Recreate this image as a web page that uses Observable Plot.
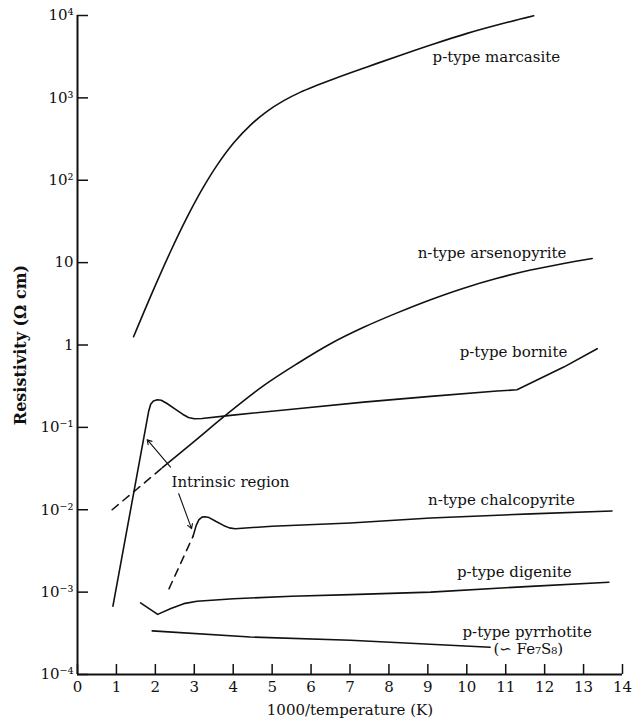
<!DOCTYPE html>
<html>
<head>
<meta charset="utf-8">
<script src="https://cdn.jsdelivr.net/npm/d3@7"></script>
<script src="https://cdn.jsdelivr.net/npm/@observablehq/plot@0.6"></script>
<style>
  html, body { margin: 0; padding: 0; background: #fff; }
  #chart svg { display: block; }
</style>
</head>
<body>
<div id="chart"></div>
<script>
// Resistivity of sulfide minerals vs. reciprocal temperature.
// Each series: [1000/T (1/K), log10 resistivity (Ω cm)]
const marcasite = [[1.44,0.10],[1.9,0.615],[2.39,1.135],[2.8,1.537],[3.2,1.889],[3.6,2.193],[4.02,2.458],[4.45,2.673],[4.87,2.837],[5.3,2.966],[5.73,3.07],[6.58,3.23],[7.44,3.376],[8.30,3.518],[9.15,3.654],[10.01,3.783],[10.9,3.899],[11.72,3.997]];
const arsenopyriteDashed = [[0.89,-2.0],[1.53,-1.748],[2.18,-1.49]];
const arsenopyrite = [[2.18,-1.49],[3.0,-1.169],[3.8,-0.854],[4.79,-0.49],[5.64,-0.227],[6.50,0.016],[7.35,0.215],[8.21,0.39],[9.07,0.55],[9.92,0.69],[10.78,0.81],[11.64,0.91],[12.49,0.99],[13.22,1.05]];
const bornite = [[0.91,-3.17],[1.83,-0.80],[1.88,-0.72],[1.95,-0.68],[2.05,-0.665],[2.15,-0.67],[2.3,-0.71],[2.5,-0.775],[2.7,-0.84],[2.85,-0.88],[3.0,-0.895],[3.2,-0.893],[3.93,-0.854],[5.64,-0.773],[7.35,-0.693],[9.07,-0.624],[10.78,-0.559],[11.29,-0.543],[12.49,-0.268],[13.35,-0.045]];
const chalcopyriteDashed = [[2.35,-2.96],[2.97,-2.32]];
const chalcopyrite = [[2.97,-2.32],[3.05,-2.19],[3.12,-2.12],[3.2,-2.09],[3.27,-2.085],[3.38,-2.095],[3.55,-2.14],[3.75,-2.19],[3.9,-2.22],[4.05,-2.23],[5.0,-2.20],[7.01,-2.16],[9.07,-2.10],[11.64,-2.05],[13.73,-2.016]];
const digenite = [[1.62,-3.13],[2.06,-3.27],[2.4,-3.20],[2.73,-3.14],[3.07,-3.11],[4.01,-3.08],[5.5,-3.05],[7.01,-3.03],[9.07,-3.0],[11.64,-2.93],[13.65,-2.88]];
const pyrrhotite = [[1.92,-3.47],[4.44,-3.545],[7.01,-3.585],[10.6,-3.67]];

// Curve labels: [text, x, log10 y]
const curveLabels = [
  ["p-type marcasite", 10.76, 3.50],
  ["n-type arsenopyrite", 10.65, 1.11],
  ["p-type bornite", 11.2, -0.09],
  ["n-type chalcopyrite", 10.89, -1.886],
  ["p-type digenite", 11.22, -2.76],
  ["p-type pyrrhotite", 11.55, -3.488],
  ["(∽ Fe₇S₈)", 11.58, -3.694],
  ["Intrinsic region", 3.93, -1.667]
];

// Pointers from "Intrinsic region" to the intrinsic parts: [x1, logy1, x2, logy2]
const pointers = [[2.39,-1.482,1.79,-1.149],[2.60,-1.805,2.93,-2.229]];

// Axes
const xTicks = [0,1,2,3,4,5,6,7,8,9,10,11,12,13,14];
const yTicks = [1e-4,1e-3,1e-2,1e-1,1,10,1e2,1e3,1e4];
const yTickLabels = ["10⁻⁴","10⁻³","10⁻²","10⁻¹","1","10","10²","10³","10⁴"];
const xTitle = "1000/temperature (K)";
const yTitle = "Resistivity (Ω cm)";

const P = ([x, ly]) => ({x, y: 10 ** ly});
const ink = "#111";

// smooth curves vs. ones with sharp corners
const smooth = [marcasite, arsenopyrite];
const cornered = [bornite, chalcopyrite, digenite, pyrrhotite];
const dashed = [arsenopyriteDashed, chalcopyriteDashed];

const lineMarks = [
  ...smooth.map(s => Plot.line(s.map(P), {x: "x", y: "y", stroke: ink, strokeWidth: 1.6, curve: "catmull-rom"})),
  ...cornered.map(s => Plot.line(s.map(P), {x: "x", y: "y", stroke: ink, strokeWidth: 1.6, strokeLinejoin: "round"})),
  ...dashed.map(s => Plot.line(s.map(P), {x: "x", y: "y", stroke: ink, strokeWidth: 1.5, strokeDasharray: "8,6"}))
];

const chart = Plot.plot({
  width: 634,
  height: 728,
  marginLeft: 77,
  marginRight: 12,
  marginTop: 15,
  marginBottom: 54,
  style: {fontFamily: "'DejaVu Serif', serif", fontSize: "14px", color: ink, background: "#fff"},
  x: {domain: [0, 14]},
  y: {type: "log", domain: [1e-4, 1e4]},
  marks: [
    Plot.axisX({ticks: xTicks, tickSize: -10, tickPadding: 17, tickFormat: d => String(d), label: null, fontSize: 15, strokeWidth: 1.5}),
    Plot.axisY({ticks: yTicks, tickSize: -11, tickPadding: 15, tickFormat: d => yTickLabels[yTicks.indexOf(d)], label: null, fontSize: 15, strokeWidth: 1.5}),
    Plot.ruleX([0], {stroke: ink, strokeWidth: 2}),
    Plot.ruleY([1e-4], {stroke: ink, strokeWidth: 2}),
    ...lineMarks,
    Plot.arrow(pointers, {x1: d => d[0], y1: d => 10 ** d[1], x2: d => d[2], y2: d => 10 ** d[3], stroke: ink, strokeWidth: 1.1, headLength: 7}),
    Plot.text(curveLabels, {x: d => d[1], y: d => 10 ** d[2], text: d => d[0], fontSize: 15, fill: ink}),
    Plot.text([xTitle], {frameAnchor: "bottom", dy: 40, text: d => d, fontSize: 15, fill: ink}),
    Plot.text([yTitle], {frameAnchor: "left", dx: -57, rotate: -90, textAnchor: "middle", text: d => d, fontSize: 16, fontWeight: "bold", fill: ink})
  ]
});
document.getElementById("chart").append(chart);
</script>
</body>
</html>
